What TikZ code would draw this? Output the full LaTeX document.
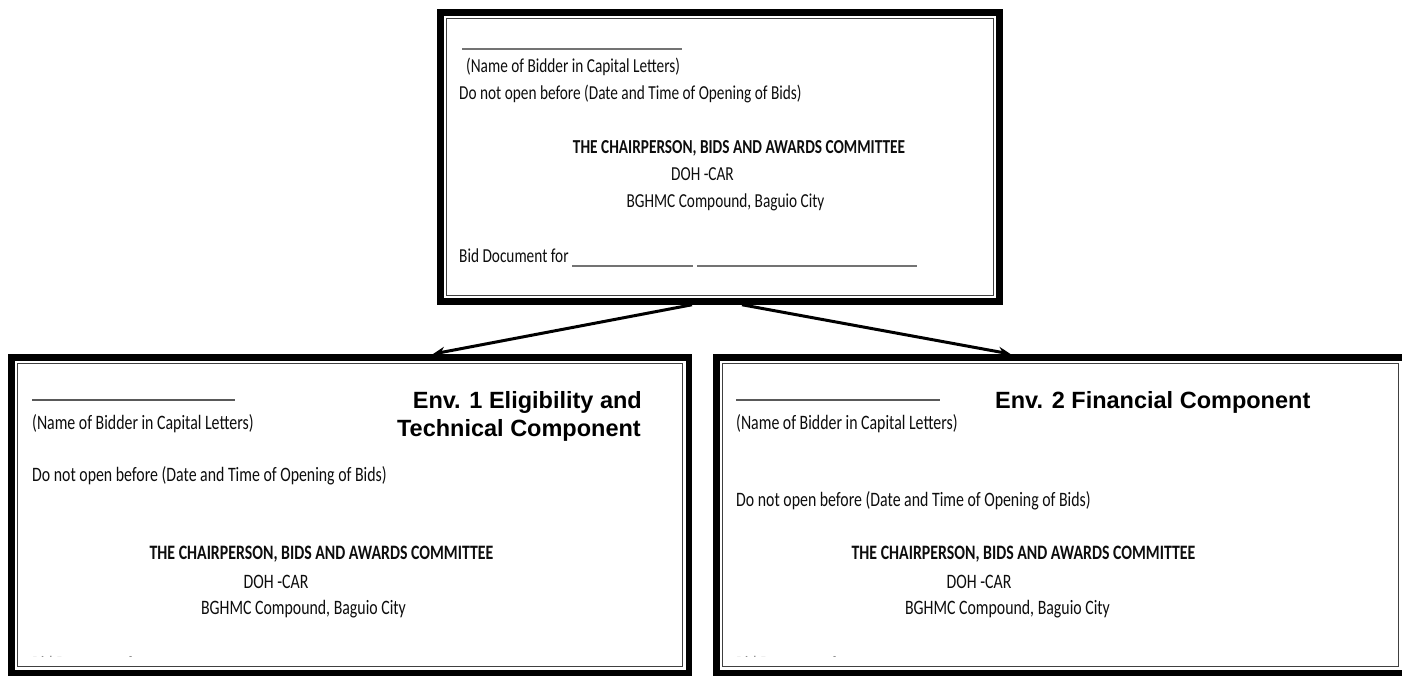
\documentclass[tikz,border=0pt]{standalone}
\usepackage{fontspec}
\setmainfont{Liberation Sans}
\newfontfamily\calf[FakeStretch=0.773]{Carlito}
\newfontfamily\arialf{Liberation Sans}
\usetikzlibrary{arrows.meta}
\begin{document}
\begin{tikzpicture}[x=1pt,y=-1pt,
  env/.style={draw=black, line width=6.5pt, inner sep=0pt},
  innerframe/.style={draw=black!75, line width=1.6pt, inner sep=0pt},
  body/.style={font=\calf\fontsize{20.5}{24}\selectfont, text=black!95, inner sep=0pt, anchor=base west},
  bodyc/.style={body, anchor=base},
  topbody/.style={body, font=\calf\fontsize{19.8}{23}\selectfont},
  topbodyc/.style={topbody, anchor=base},
  envlabel/.style={font=\arialf\bfseries\fontsize{23.5}{28}\selectfont, inner sep=0pt},
  arrow/.style={-{Stealth[length=12pt,width=10pt]}, line width=3pt},
  uline/.style={draw=black!65, line width=2.5pt},
  thinline/.style={draw=black!55, line width=1.1pt},
  frag/.style={body, text=black!45}
]
\useasboundingbox (0,0) rectangle (1402,676);
\clip (0,0) rectangle (1402,676);

% envelopes
\node[env, minimum width=559pt, minimum height=289pt] (top) at (720,157) {};
\node[innerframe, minimum width=547pt, minimum height=277pt] (topin) at (720,157) {};
\node[env, minimum width=677.5pt, minimum height=315.5pt] (left) at (350,515) {};
\node[innerframe, minimum width=665pt, minimum height=303pt] (leftin) at (350,515) {};
\node[env, minimum width=688.5pt, minimum height=315.5pt] (right) at (1060.5,515) {};
\node[innerframe, minimum width=676pt, minimum height=303pt] (rightin) at (1060.5,515) {};

% connectors
\draw[arrow] ([xshift=-28pt]top.south) -- ([xshift=83pt]left.north);
\draw[arrow] ([xshift=22pt]top.south) -- ([xshift=-50pt]right.north);

% top envelope text
\draw[thinline] (462,49) -- (682,49);
\node[topbody] (t1) at (466,73) {(Name of Bidder in Capital Letters)};
\node[topbody] (t2) at (459,100) {Do not open before (Date and Time of Opening of Bids)};
\node[topbodyc] (t3) at (739,154) {\bfseries THE CHAIRPERSON, BIDS AND AWARDS COMMITTEE};
\node[topbodyc] (t4) at (702.5,181) {DOH -CAR};
\node[topbodyc] (t5) at (725.5,208) {BGHMC Compound, Baguio City};
\node[topbody] (t6) at (459,263) {Bid Document for};
\draw[thinline] (572,266) -- (693,266);
\draw[thinline] (697,266) -- (917,266);

% left envelope text
\draw[uline] (32,400) -- (235,400);
\node[body] (l1) at (32,429) {(Name of Bidder in Capital Letters)};
\node[body] (l2) at (32,481) {Do not open before (Date and Time of Opening of Bids)};
\node[bodyc] (l3) at (321.5,559) {\bfseries THE CHAIRPERSON, BIDS AND AWARDS COMMITTEE};
\node[bodyc] (l4) at (276,588) {DOH -CAR};
\node[bodyc] (l5) at (303.5,614) {BGHMC Compound, Baguio City};
\node[envlabel, anchor=base east] (l6) at (642,408.5) {Env. 1 Eligibility and};
\node[envlabel, anchor=base east] (l7) at (641,436.5) {Technical Component};

% right envelope text
\draw[uline] (736,400) -- (940,400);
\node[body] (r1) at (736,429) {(Name of Bidder in Capital Letters)};
\node[body] (r2) at (736,506) {Do not open before (Date and Time of Opening of Bids)};
\node[bodyc] (r3) at (1023.5,559) {\bfseries THE CHAIRPERSON, BIDS AND AWARDS COMMITTEE};
\node[bodyc] (r4) at (979,588) {DOH -CAR};
\node[bodyc] (r5) at (1007.5,614) {BGHMC Compound, Baguio City};
\node[envlabel, anchor=base west] (r6) at (995,408.5) {Env. 2 Financial Component};

% cut-off last lines
\begin{scope}
\clip (20,645) rectangle (1390,656);
\node[frag] (lf) at (32,670) {Bid Document for};
\node[frag] (rf) at (736,670) {Bid Document for};
\end{scope}
\end{tikzpicture}
\end{document}
